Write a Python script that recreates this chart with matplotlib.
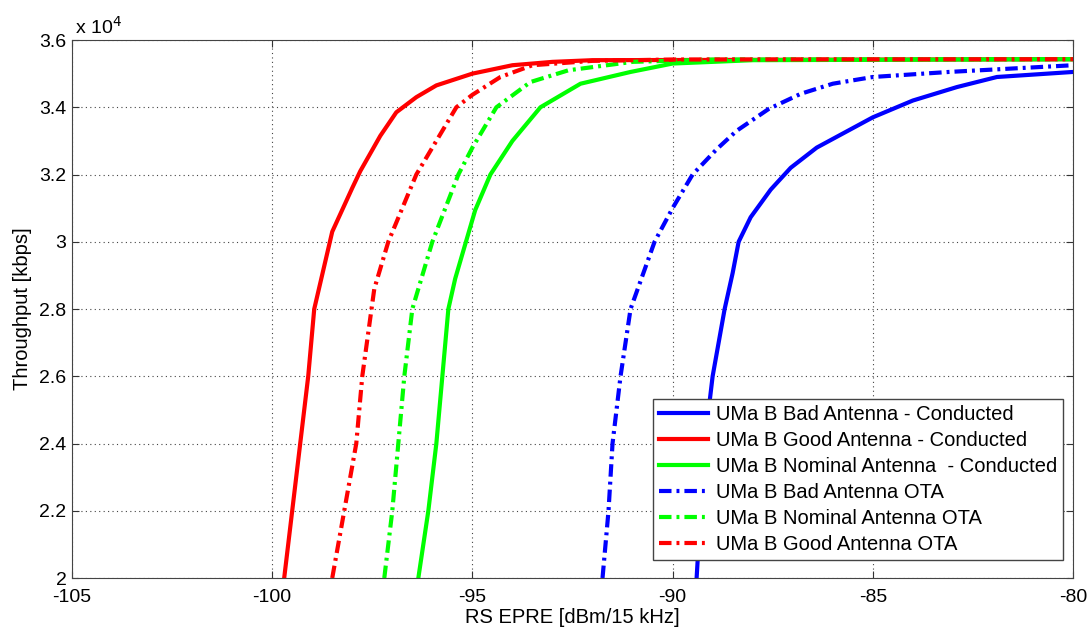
import numpy as np
import matplotlib.pyplot as plt
from matplotlib.ticker import FuncFormatter

plt.rcParams['font.family'] = ['Liberation Sans', 'DejaVu Sans']
plt.rcParams['axes.unicode_minus'] = False

# RS EPRE (dBm/15 kHz) vs throughput (kbps)
bad_cond_x = [-89.4, -89.3, -89.2, -89.0, -88.7, -88.5, -88.35, -88.05, -87.55, -87.05, -86.4, -85.0, -84.0, -82.9, -81.9, -80.0]
bad_cond_y = [20000, 22000, 24000, 26000, 28000, 29070, 30000, 30730, 31550, 32200, 32800, 33700, 34200, 34600, 34900, 35050]

good_cond_x = [-99.7, -99.5, -99.3, -99.1, -98.95, -98.5, -98.0, -97.8, -97.3, -96.9, -96.4, -95.9, -95.0, -94.0, -93.0, -92.0, -80.0]
good_cond_y = [20000, 22000, 24000, 26000, 28000, 30300, 31600, 32100, 33150, 33850, 34300, 34650, 35000, 35250, 35350, 35400, 35430]

nom_cond_x = [-96.35, -96.1, -95.9, -95.75, -95.6, -95.43, -94.93, -94.55, -94.0, -93.3, -92.3, -91.05, -90.0, -88.0, -80.0]
nom_cond_y = [20000, 22000, 24000, 26000, 28000, 28900, 30940, 32000, 33000, 34000, 34700, 35050, 35300, 35400, 35430]

bad_ota_x = [-91.75, -91.6, -91.5, -91.3, -91.05, -90.45, -90.0, -89.5, -88.9, -88.4, -87.6, -86.8, -86.0, -85.0, -83.1, -80.0]
bad_ota_y = [20000, 22000, 24000, 26000, 28000, 30000, 31000, 32000, 32750, 33300, 33950, 34400, 34700, 34900, 35050, 35250]

nom_ota_x = [-97.2, -97.0, -96.85, -96.7, -96.5, -96.0, -95.35, -95.0, -94.4, -93.55, -92.6, -91.0, -89.0, -80.0]
nom_ota_y = [20000, 22000, 24000, 26000, 28000, 30000, 32000, 32800, 34000, 34750, 35100, 35350, 35420, 35430]

good_ota_x = [-98.5, -98.2, -97.9, -97.75, -97.45, -97.1, -96.4, -95.4, -95.0, -94.3, -93.5, -92.0, -90.0, -80.0]
good_ota_y = [20000, 22000, 24000, 26000, 28600, 30000, 32000, 34000, 34370, 34900, 35250, 35380, 35420, 35430]

xticks = np.arange(-105, -79, 5)
yticks = np.arange(20000, 36001, 2000)

fig = plt.figure(figsize=(10.89, 6.32), dpi=100)
ax = fig.add_axes([0.0661, 0.0854, 0.9192, 0.8513])

dd = (0, (3, 1.2, 0.7, 1.2))
lw = 3
ax.plot(bad_cond_x, bad_cond_y, color='#0000ff', lw=lw, label='UMa B Bad Antenna - Conducted')
ax.plot(good_cond_x, good_cond_y, color='#ff0000', lw=lw, label='UMa B Good Antenna - Conducted')
ax.plot(nom_cond_x, nom_cond_y, color='#00ff00', lw=lw, label='UMa B Nominal Antenna  - Conducted')
ax.plot(bad_ota_x, bad_ota_y, color='#0000ff', lw=lw, ls=dd, label='UMa B Bad Antenna OTA')
ax.plot(nom_ota_x, nom_ota_y, color='#00ff00', lw=lw, ls=dd, label='UMa B Nominal Antenna OTA')
ax.plot(good_ota_x, good_ota_y, color='#ff0000', lw=lw, ls=dd, label='UMa B Good Antenna OTA')

ax.set_xlim(-105, -80)
ax.set_ylim(20000, 36000)
ax.set_xticks(xticks)
ax.set_yticks(yticks)
ax.yaxis.set_major_formatter(FuncFormatter(lambda v, p: '%g' % (v / 1e4)))
ax.tick_params(direction='in', top=True, right=True, labelsize=14, length=5, color='#333333')
ax.tick_params(axis='x', pad=8)
ax.tick_params(axis='y', pad=4)
ax.grid(True, ls=(0, (1, 3)), color='#444444', lw=0.8)
for s in ax.spines.values():
    s.set_color('#444444')

ax.set_xlabel('RS EPRE [dBm/15 kHz]', fontsize=14.5, labelpad=1)
ax.set_ylabel('Throughput [kbps]', fontsize=14.5, labelpad=5)
ax.text(0.003, 1.005, r'x 10$^{4}$', transform=ax.transAxes, fontsize=14, va='bottom', ha='left')

leg = ax.legend(loc='lower right', bbox_to_anchor=(0.99, 0.033), borderaxespad=0,
                fontsize=14.5, handlelength=2.4, fancybox=False, framealpha=1,
                labelspacing=0.35, borderpad=0.3, handletextpad=0.4)
leg.get_frame().set_edgecolor('#444444')

plt.savefig('out.png', dpi=100)
